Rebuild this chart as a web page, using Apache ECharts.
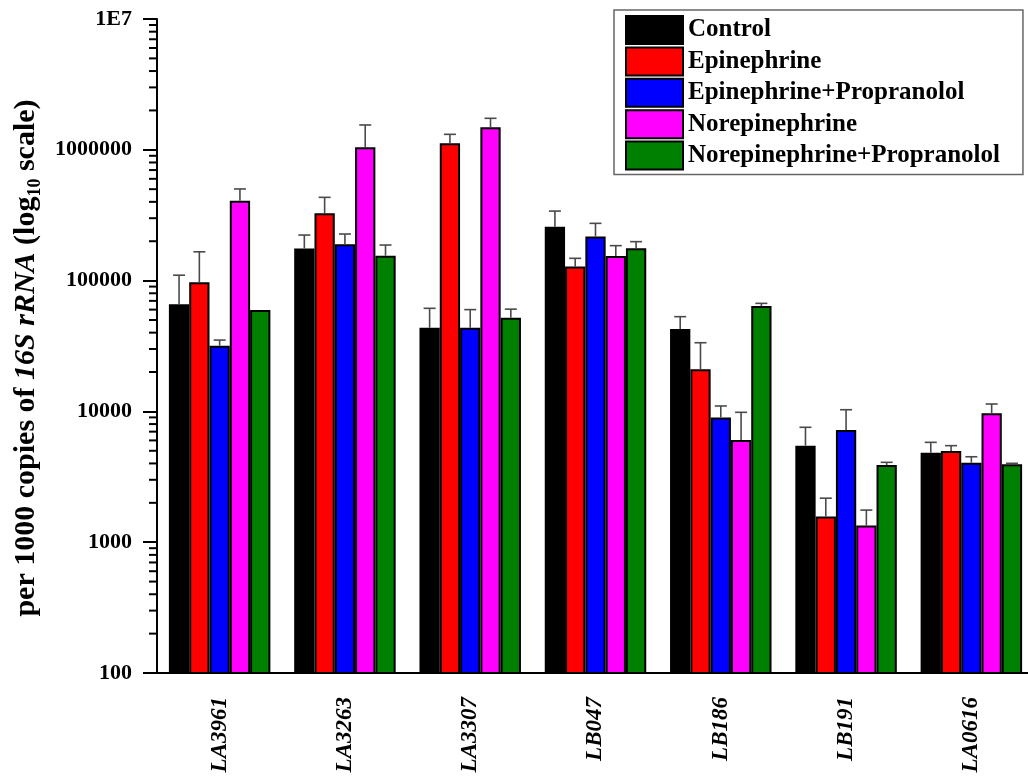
<!DOCTYPE html>
<html>
<head>
<meta charset="utf-8">
<script src="https://cdn.jsdelivr.net/npm/echarts@6/dist/echarts.min.js"></script>
<style>
html,body{margin:0;padding:0;background:#fff;}
#chart{width:1028px;height:779px;}
</style>
</head>
<body>
<div id="chart"></div>
<script>
const categories = ['LA3961','LA3263','LA3307','LB047','LB186','LB191','LA0616'];
const seriesNames = ['Control','Epinephrine','Epinephrine+Propranolol','Norepinephrine','Norepinephrine+Propranolol'];
const colors = ['#000000','#ff0000','#0000ff','#ff00ff','#008000'];

const control      = [66000, 176000, 43600, 258000, 42700, 5470, 4830];
const epinephrine  = [97000, 327000, 1120000, 128000, 21000, 1570, 4980];
const epiProp      = [31800, 190000, 43600, 217000, 9000, 7200, 4050];
const norepinephrine = [408000, 1045000, 1490000, 154000, 6040, 1340, 9670];
const norepiProp   = [59600, 155000, 52000, 176500, 63900, 3890, 3940];

const controlErr   = [44000, 47000, 17800, 82000, 10300, 2090, 970];
const epiErr       = [69000, 106000, 193000, 20000, 12500, 600, 490];
const epiPropErr   = [3300, 37000, 16400, 57000, 2000, 3100, 450];
const norepiErr    = [94000, 503000, 251000, 31000, 3800, 420, 1720];
const norepiPropErr= [0, 32000, 8500, 22000, 3100, 190, 70];

const yTickLabels = {100:'100',1000:'1000',10000:'10000',100000:'100000',1000000:'1000000',10000000:'1E7'};
const decades = [100, 1000, 10000, 100000, 1000000];
const minorSteps = [2, 3, 4, 5, 6, 7, 8, 9];

const values = [control, epinephrine, epiProp, norepinephrine, norepiProp];
const errors = [controlErr, epiErr, epiPropErr, norepiErr, norepiPropErr];

const GAP = 0.19;
const serif = 'Liberation Serif, Times New Roman, serif';

const barSeries = seriesNames.map((name, si) => ({
  name: name,
  type: 'bar',
  barGap: '0%',
  barCategoryGap: (GAP*100) + '%',
  itemStyle: {color: colors[si], borderColor: '#000', borderWidth: 2},
  data: values[si],
  z: 2
}));

const errData = [];
values.forEach((arr, si) => arr.forEach((v, ci) => errData.push([ci, v, errors[si][ci], si])));

const errSeries = {
  type: 'custom',
  name: 'errors',
  z: 5,
  encode: {x: 0, y: 1},
  renderItem: function (params, api) {
    const ci = api.value(0), v = api.value(1), e = api.value(2), si = api.value(3);
    if (!(e > 0)) return null;
    const p0 = api.coord([ci, v]);
    const p1 = api.coord([ci, v + e]);
    const band = api.size([1, v])[0];
    const groupW = band * (1 - GAP);
    const bw = groupW / 5;
    const x = p0[0] - groupW / 2 + (si + 0.5) * bw;
    const cap = 6;
    const st = {stroke: '#4a4a4a', lineWidth: 1.6};
    return {type: 'group', children: [
      {type: 'line', shape: {x1: x, y1: p0[1], x2: x, y2: p1[1]}, style: st},
      {type: 'line', shape: {x1: x - cap, y1: p1[1], x2: x + cap, y2: p1[1]}, style: st}
    ]};
  },
  data: errData
};

// log-distributed minor ticks on the y axis, placed through the axis scale
const minorData = [];
decades.forEach(d => minorSteps.forEach(k => minorData.push([0, d * k])));
const minorTickSeries = {
  type: 'custom',
  name: 'minorTicks',
  z: 6,
  clip: false,
  silent: true,
  encode: {x: 0, y: 1},
  renderItem: function (params, api) {
    const v = api.value(1);
    const p = api.coord([0, v]);
    const band = api.size([1, v])[0];
    const x0 = p[0] - band / 2;
    return {type: 'line', shape: {x1: x0 - 8, y1: p[1], x2: x0, y2: p[1]},
      style: {stroke: '#000', lineWidth: 2}};
  },
  data: minorData
};

const chart = echarts.init(document.getElementById('chart'));
chart.setOption({
  animation: false,
  backgroundColor: '#fff',
  color: colors,
  grid: {left: 157, top: 19, width: 877, height: 654, containLabel: false, outerBoundsMode: 'none'},
  legend: {
    data: seriesNames,
    orient: 'vertical',
    left: 614, top: 10,
    padding: [5, 23, 4, 11],
    itemWidth: 57, itemHeight: 28, itemGap: 1.4,
    borderColor: '#666', borderWidth: 1.5,
    icon: 'rect',
    textStyle: {fontFamily: serif, fontWeight: 'bold', fontSize: 25, lineHeight: 28, color: '#000'}
  },
  xAxis: [{
    type: 'category',
    data: categories,
    position: 'bottom',
    axisLine: {lineStyle: {color: '#000', width: 2}},
    axisTick: {alignWithLabel: true, length: 13, lineStyle: {color: '#000', width: 2}},
    axisLabel: {rotate: 90, margin: 24, fontFamily: serif, fontWeight: 'bold', fontStyle: 'italic', fontSize: 23, color: '#000'}
  }, {
    type: 'category',
    data: categories,
    position: 'bottom',
    offset: 0,
    axisLine: {show: false},
    axisTick: {alignWithLabel: false, length: 7, lineStyle: {color: '#000', width: 2}},
    axisLabel: {show: false}
  }],
  yAxis: {
    type: 'log',
    logBase: 10,
    min: 100,
    max: 10000000,
    axisLine: {show: true, lineStyle: {color: '#000', width: 2}},
    axisTick: {show: true, length: 14, lineStyle: {color: '#000', width: 2}},
    minorTick: {show: false},
    splitLine: {show: false},
    axisLabel: {margin: 25, fontFamily: serif, fontWeight: 'bold', fontSize: 22, color: '#000',
      formatter: v => yTickLabels[Math.round(v)] || ''},
    name: '{n|per 1000 copies of }{i|16S rRNA}{n| (log}{s|10}{n| scale)}',
    nameLocation: 'middle',
    nameRotate: 90,
    nameGap: 108,
    nameTextStyle: {
      fontFamily: serif, fontWeight: 'bold', fontSize: 30, color: '#000',
      padding: [0, 24, 0, 0],
      rich: {
        n: {fontFamily: serif, fontWeight: 'bold', fontSize: 30, lineHeight: 36, color: '#000'},
        i: {fontFamily: serif, fontWeight: 'bold', fontStyle: 'italic', fontSize: 30, lineHeight: 36, color: '#000'},
        s: {fontFamily: serif, fontWeight: 'bold', fontSize: 18, lineHeight: 15, verticalAlign: 'bottom', color: '#000'}
      }
    }
  },
  series: barSeries.concat([errSeries, minorTickSeries])
});
</script>
</body>
</html>
